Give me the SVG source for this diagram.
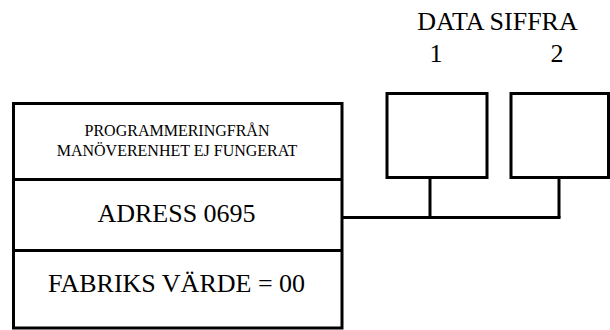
<svg xmlns="http://www.w3.org/2000/svg" width="610" height="330" viewBox="0 0 610 330">
<style>
.ln{fill:none;stroke:#000;stroke-width:3}
.t{font-family:'Liberation Serif','DejaVu Serif',serif;fill:#000;text-anchor:middle}
</style>
<rect width="610" height="330" fill="#fff"/>
<g id="header">
<text class="t" x="497.5" y="30" font-size="26" font-family="Liberation Serif">DATA SIFFRA</text>
<text class="t" x="436" y="62" font-size="26" font-family="Liberation Serif">1</text>
<text class="t" x="557" y="62" font-size="26" font-family="Liberation Serif">2</text>
</g>
<g id="main-box">
<rect class="ln" x="13.5" y="103.5" width="328.5" height="224.5"/>
<line class="ln" x1="13.5" y1="179.5" x2="342" y2="179.5"/>
<line class="ln" x1="13.5" y1="250.5" x2="342" y2="250.5"/>
<text class="t" x="177" y="136" font-size="16" font-family="Liberation Serif">PROGRAMMERINGFRÅN</text>
<text class="t" x="177" y="156" font-size="16" font-family="Liberation Serif">MANÖVERENHET EJ FUNGERAT</text>
<text class="t" x="176.5" y="222" font-size="26" font-family="Liberation Serif">ADRESS 0695</text>
<text class="t" x="176.5" y="292" font-size="26" font-family="Liberation Serif">FABRIKS VÄRDE = 00</text>
</g>
<g id="digit1">
<rect class="ln" x="387" y="93.5" width="100" height="84"/>
</g>
<g id="digit2">
<rect class="ln" x="511" y="93.5" width="97.5" height="84"/>
</g>
<g id="connectors">
<polyline class="ln" points="342,217.5 560.5,217.5"/>
<line class="ln" x1="430" y1="177.5" x2="430" y2="217.5"/>
<line class="ln" x1="559" y1="177.5" x2="559" y2="217.5"/>
</g>
</svg>
